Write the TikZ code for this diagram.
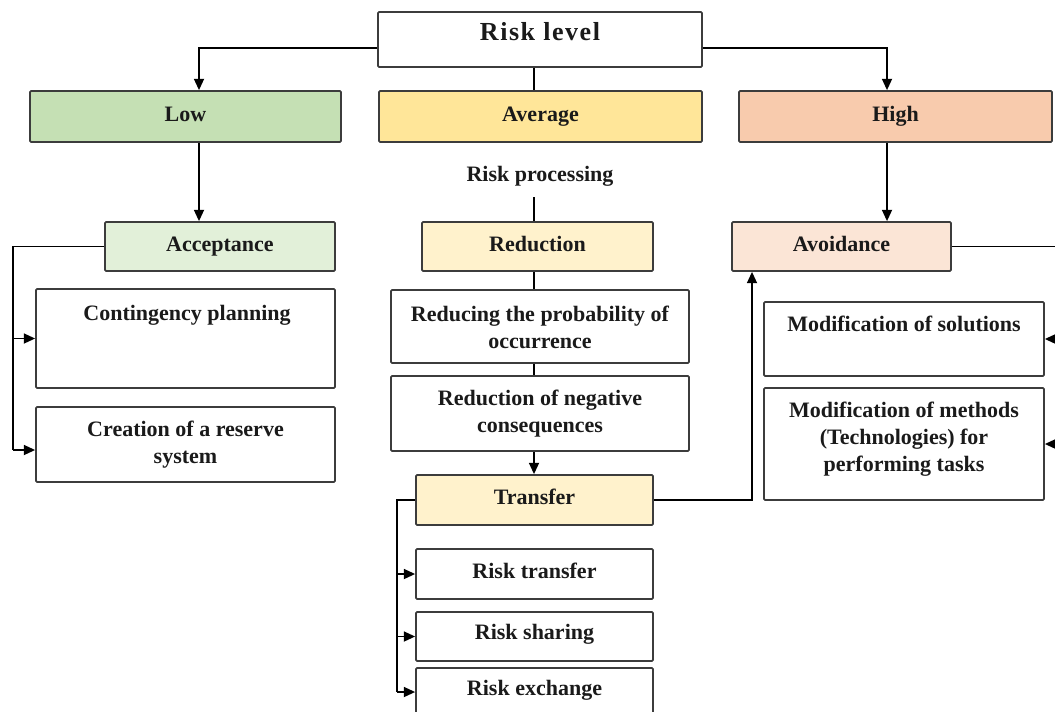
\documentclass[tikz,border=0pt]{standalone}
\usepackage{fontspec}
\setmainfont{Liberation Serif}
\usetikzlibrary{arrows.meta}
\definecolor{cLow}{HTML}{C5E0B4}
\definecolor{cAvg}{HTML}{FFE699}
\definecolor{cHigh}{HTML}{F8CBAD}
\definecolor{cAcc}{HTML}{E2F0D9}
\definecolor{cRed}{HTML}{FFF2CC}
\definecolor{cAvo}{HTML}{FBE5D6}
\definecolor{cBorder}{HTML}{3C3C3C}
\definecolor{cText}{HTML}{1A1A1A}
\begin{document}
\begin{tikzpicture}[x=0.75pt,y=-0.75pt,
  bx/.style n args={2}{draw=cBorder, line width=1.3pt, rounded corners=0.8pt, fill=white,
     minimum width=#1*0.75pt, minimum height=#2*0.75pt, inner sep=0pt},
  tx/.style={font=\bfseries\fontsize{16.5}{20.25}\selectfont, align=center, inner sep=0pt, text=cText},
  bl/.style={tx, anchor=base},
  conn/.style={draw=black, line width=1.3pt},
  arr/.style={conn, -{Triangle[length=8.5pt,width=7.5pt]}}
]
\useasboundingbox (0,0) rectangle (1055,711);
\clip (0,0) rectangle (1055,711);

% top
\node[bx={324}{55}] (rl) at (540,39.5) {};
\node[bl, font=\bfseries\fontsize{19.5}{23}\selectfont\addfontfeature{LetterSpace=6}] (rlt) at (540,40) {Risk level};

\node[bx={311}{51}, fill=cLow] (low) at (185.5,116.5) {};
\node[bl] (lowt) at (185.5,121) {Low};
\node[bx={323}{51}, fill=cAvg] (avg) at (540.5,116.5) {};
\node[bl] (avgt) at (540.5,121) {Average};
\node[bx={313}{51}, fill=cHigh] (high) at (895.5,116.5) {};
\node[bl] (hight) at (895.5,121) {High};

\node[bl] (rpt) at (540,181) {Risk processing};

% second level
\node[bx={230}{49}, fill=cAcc] (acc) at (220,246.5) {};
\node[bl] (acct) at (220,251) {Acceptance};
\node[bx={231}{49}, fill=cRed] (red) at (537.5,246.5) {};
\node[bl] (redt) at (537.5,251) {Reduction};
\node[bx={219}{49}, fill=cAvo] (avo) at (841.5,246.5) {};
\node[bl] (avot) at (841.5,251) {Avoidance};

% left column
\node[bx={299}{99}] (cp) at (185.5,338.5) {};
\node[bl] (cpt) at (187,320) {Contingency planning};
\node[bx={299}{75}] (cr) at (185.5,444.5) {};
\node[tx] (crt) at (185.5,445) {Creation of a reserve\\system};

% middle column
\node[bx={298}{73}] (rp) at (540,326.5) {};
\node[tx] (rpt2) at (540,327) {Reducing the probability of\\occurrence};
\node[bx={298}{75}] (rn) at (540,413.5) {};
\node[tx] (rnt) at (540,414) {Reduction of negative\\consequences};
\node[bx={237}{50}, fill=cRed] (tr) at (534.5,500) {};
\node[bl] (trt) at (534.5,504) {Transfer};
\node[bx={237}{50}] (rt) at (534.5,574) {};
\node[bl] (rtt) at (534.5,578) {Risk transfer};
\node[bx={237}{49}] (rs) at (534.5,636.5) {};
\node[bl] (rst) at (534.5,639) {Risk sharing};
\node[bx={237}{52}] (re) at (534.5,694) {};
\node[bl] (ret) at (534.5,695) {Risk exchange};

% right column
\node[bx={280}{74}] (ms) at (904,339) {};
\node[bl] (mst) at (904,331) {Modification of solutions};
\node[bx={280}{112}] (mm) at (904,444) {};
\node[tx] (mmt) at (904,439) {Modification of methods\\(Technologies) for\\performing tasks};

% helper coordinates
\coordinate (yl) at (0,48);
\coordinate (ax) at (199,0);
\coordinate (hx) at (887,0);
\coordinate (mx) at (534,0);
\coordinate (rps) at (534,197);
\coordinate (lb) at (13,450);
\coordinate (tb) at (397,692);
\coordinate (vx) at (752,0);
\coordinate (rb) at (1058,444);

% connectors
\draw[arr] (rl.west |- yl) -| (low.north -| ax);
\draw[arr] (rl.east |- yl) -| (high.north -| hx);
\draw[conn] (rl.south -| mx) -- (avg.north -| mx);
\draw[arr] (low.south -| ax) -- (acc.north -| ax);
\draw[arr] (high.south -| hx) -- (avo.north -| hx);

\draw[conn] (acc.west) -| (lb);
\draw[arr] (cp.west -| lb) -- (cp.west);
\draw[arr] (lb) -- (lb -| cr.west);

\draw[conn] (rps) -- (red.north -| mx);
\draw[conn] (red.south -| mx) -- (rp.north -| mx);
\draw[conn] (rp.south -| mx) -- (rn.north -| mx);
\draw[arr] (rn.south -| mx) -- (tr.north -| mx);

\draw[conn] (tr.west) -| (tb);
\draw[arr] (rt.west -| tb) -- (rt.west);
\draw[arr] (rs.west -| tb) -- (rs.west);
\draw[arr] (tb) -- (tb -| re.west);

\draw[arr] (tr.east) -| (avo.south -| vx);

\draw[conn] (avo.east) -| (rb);
\draw[arr] (ms.east -| rb) -- (ms.east);
\draw[arr] (rb) -- (rb -| mm.east);
\end{tikzpicture}
\end{document}
